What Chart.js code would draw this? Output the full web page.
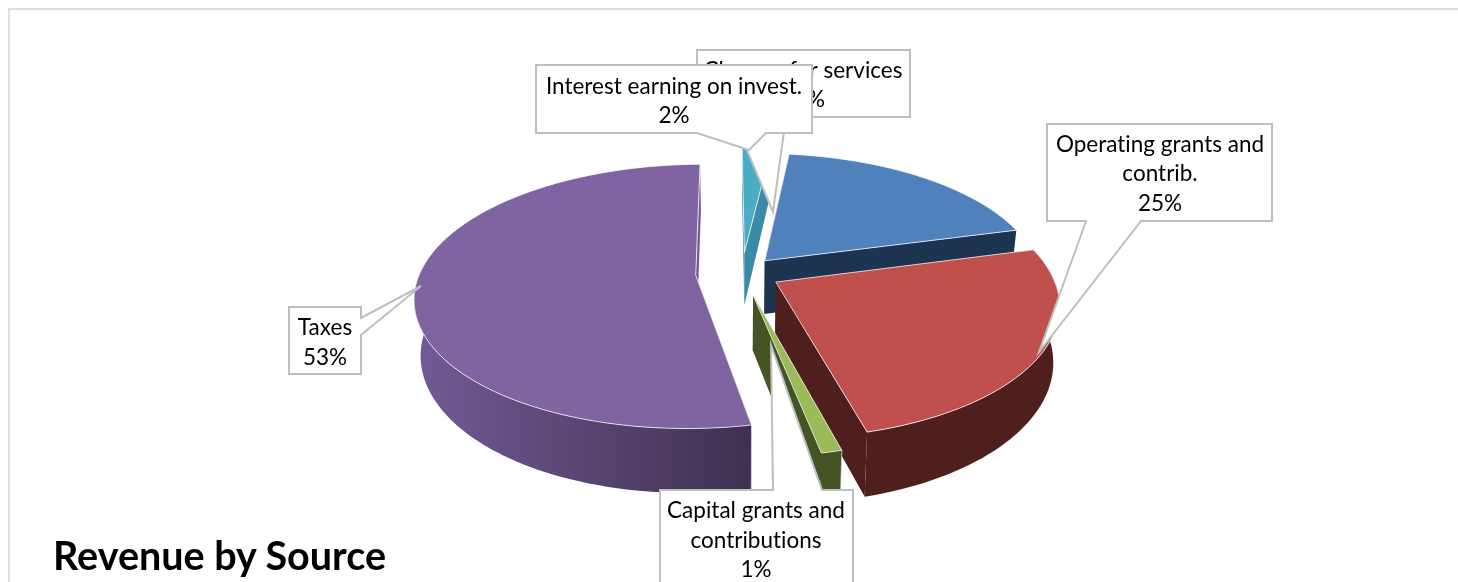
<!DOCTYPE html>
<html>
<head>
<meta charset="utf-8">
<title>Revenue by Source</title>
<script src="https://cdn.jsdelivr.net/npm/chart.js@4"></script>
<style>
    html, body { margin: 0; padding: 0; background: #fff; overflow: hidden; }
    #page { position: relative; width: 1458px; height: 582px; overflow: hidden; }
    #frame { position: absolute; left: 8px; top: 8px; right: -4px; bottom: -4px; border-left: 2px solid #dedede; border-top: 2px solid #dedede; }
    #revenueChart { position: absolute; left: 0; top: 0; }
    #heading { position: absolute; left: 53px; top: 531px; font: bold 39.5px Lato, sans-serif; color: #000; white-space: nowrap; font-variant-ligatures: none; }
</style>
</head>
<body>
<div id="page">
    <div id="frame"></div>
    <canvas id="revenueChart" width="1458" height="582"></canvas>
    <div id="heading">Revenue by Source</div>
</div>
<script>
const categories = ['Charges for services', 'Operating grants and contrib.', 'Capital grants and contributions', 'Taxes', 'Interest earning on invest.'];
const shares = [19, 25, 1, 53, 2];

const topColors = ['#4f81bd', '#c0504d', '#9bbb59', '#8064a2', '#4bacc6'];
const wallLeftColors = ['#1d3450', '#4f1f1e', '#445425', '#735a95', '#3a8ba6'];
const wallRightColors = ['#1d3450', '#4f1f1e', '#445425', '#3f3050', '#3a8ba6'];
const sliceOffsets = [32, 35, 43, 42, 41];

// back to front
const paintOrder = [4, 0, 1, 2, 3];

// how the flat pie is tipped over
const view = { stretchX: 1.104, stretchY: 0.512, tilt: 0.16, depth: 54, baseShrink: 0.98 };

// callout layout: box, pointer base and pointer tip
const callouts = [
    { index: 0, box: [697, 50, 213, 67], side: 'bottom', base: [733, 786], tip: [773, 212], textX: 803, textY: [71, 100], lines: ['Charges for services'] },
    { index: 4, box: [536, 65, 276, 68], side: 'bottom', base: [697, 766], tip: [749, 150], textX: 674, textY: [87, 116], lines: ['Interest earning on invest.'] },
    { index: 1, box: [1047, 124, 225, 97], side: 'bottom', base: [1086, 1141], tip: [1039, 352], textX: 1160, textY: [145, 174, 204], lines: ['Operating grants and', 'contrib.'] },
    { index: 3, box: [289, 307, 72, 67], side: 'right', base: [318, 335], tip: [421, 286], textX: 325, textY: [328, 358], lines: ['Taxes'] },
    { index: 2, box: [660, 490, 193, 120], side: 'top', base: [773, 822], tip: [771, 345], textX: 756, textY: [511, 541, 570], lines: ['Capital grants and', 'contributions'] }
];

function project(arc, angle, r, onBase) {
    const mid = (arc.startAngle + arc.endAngle) / 2;
    const off = arc.options.offset;
    const px = Math.cos(mid) * off + Math.cos(angle) * r;
    const py = Math.sin(mid) * off + Math.sin(angle) * r;
    const s = 1 / (1 - view.tilt * py / arc.outerRadius);
    let x = px * view.stretchX * s;
    let y = py * view.stretchY * s;
    if (onBase) {
        x *= view.baseShrink;
        y += view.depth * s;
    }
    return [arc.x + x, arc.y + y];
}

function rimPoints(arc, from, to, onBase) {
    const pts = [];
    const steps = Math.max(2, Math.ceil(Math.abs(to - from) / 0.03));
    for (let i = 0; i <= steps; i++) {
        pts.push(project(arc, from + (to - from) * i / steps, arc.outerRadius, onBase));
    }
    return pts;
}

function fillPolygon(ctx, pts, fill) {
    ctx.beginPath();
    pts.forEach((p, i) => (i ? ctx.lineTo(p[0], p[1]) : ctx.moveTo(p[0], p[1])));
    ctx.closePath();
    ctx.fillStyle = fill;
    ctx.fill();
}

function drawSlice(ctx, arc, i) {
    const topApex = project(arc, 0, 0, false);
    const baseApex = project(arc, 0, 0, true);

    // cut faces
    [arc.startAngle, arc.endAngle].forEach(a => {
        const rimTop = project(arc, a, arc.outerRadius, false);
        const rimBase = project(arc, a, arc.outerRadius, true);
        fillPolygon(ctx, [topApex, rimTop, rimBase, baseApex], wallLeftColors[i]);
    });

    // curved wall, only the part that faces the front
    const from = Math.max(arc.startAngle, 0);
    const to = Math.min(arc.endAngle, Math.PI);
    if (to > from) {
        const upper = rimPoints(arc, from, to, false);
        const lower = rimPoints(arc, to, from, true);
        const xs = upper.concat(lower).map(p => p[0]);
        const grad = ctx.createLinearGradient(Math.max(...xs), 0, Math.min(...xs), 0);
        grad.addColorStop(0, wallRightColors[i]);
        grad.addColorStop(1, wallLeftColors[i]);
        fillPolygon(ctx, upper.concat(lower), grad);

        // corner highlight where the wall meets the cut face
        ctx.beginPath();
        ctx.moveTo(upper[0][0], upper[0][1]);
        ctx.lineTo(lower[lower.length - 1][0], lower[lower.length - 1][1]);
        ctx.strokeStyle = 'rgba(255,255,255,0.6)';
        ctx.lineWidth = 1;
        ctx.stroke();
    }

    // top face
    const face = [topApex].concat(rimPoints(arc, arc.startAngle, arc.endAngle, false));
    fillPolygon(ctx, face, topColors[i]);
    ctx.strokeStyle = 'rgba(255,255,255,0.75)';
    ctx.lineWidth = 1;
    ctx.lineJoin = 'round';
    ctx.stroke();
}

function drawCallout(ctx, c) {
    const [x, y, w, h] = c.box;
    const pts = [[x, y]];
    if (c.side === 'top') pts.push([c.base[0], y], c.tip, [c.base[1], y]);
    pts.push([x + w, y]);
    if (c.side === 'right') pts.push([x + w, c.base[0]], c.tip, [x + w, c.base[1]]);
    pts.push([x + w, y + h]);
    if (c.side === 'bottom') pts.push([c.base[1], y + h], c.tip, [c.base[0], y + h]);
    pts.push([x, y + h]);
    fillPolygon(ctx, pts, '#fff');
    ctx.strokeStyle = '#bfbfbf';
    ctx.lineWidth = 2;
    ctx.lineJoin = 'miter';
    ctx.stroke();

    ctx.fillStyle = '#000';
    ctx.font = '22.5px Lato, sans-serif';
    ctx.letterSpacing = '0.01px';
    ctx.textAlign = 'center';
    ctx.textBaseline = 'middle';
    c.lines.concat(shares[c.index] + '%').forEach((line, n) => {
        ctx.fillText(line, c.textX, c.textY[n]);
    });
}

// replaces the flat arcs with tilted slices built from the same arc elements
const tiltedPie = {
    id: 'tiltedPie',
    beforeDatasetDraw(chart, args) {
        const ctx = chart.ctx;
        const arcs = chart.getDatasetMeta(args.index).data;
        ctx.save();
        paintOrder.forEach(i => drawSlice(ctx, arcs[i], i));
        callouts.forEach(c => drawCallout(ctx, c));
        ctx.restore();
        return false;
    }
};

new Chart(document.getElementById('revenueChart').getContext('2d'), {
    type: 'pie',
    data: {
        labels: categories,
        datasets: [{
            data: shares,
            backgroundColor: topColors,
            borderWidth: 0,
            offset: sliceOffsets,
            hoverOffset: 0
        }]
    },
    options: {
        responsive: false,
        animation: false,
        rotation: 6.7,
        radius: 250,
        layout: { padding: { left: 26, bottom: 36 } },
        events: [],
        plugins: {
            legend: { display: false },
            tooltip: { enabled: false }
        }
    },
    plugins: [tiltedPie]
});
</script>
</body>
</html>
